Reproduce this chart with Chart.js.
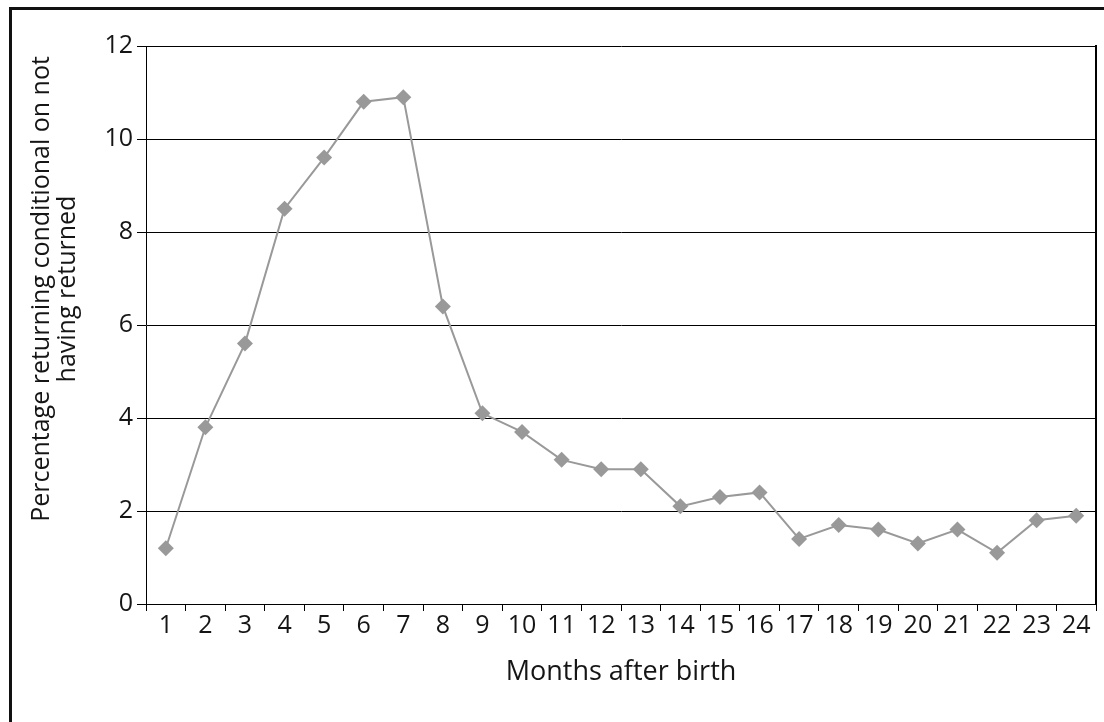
<!DOCTYPE html>
<html>
<head>
<meta charset="utf-8">
<script src="https://cdn.jsdelivr.net/npm/chart.js@4"></script>
<style>
  html, body { margin: 0; padding: 0; background: #fff; overflow: hidden; }
  #wrap { position: relative; width: 1104px; height: 722px; }
  #frame {
    position: absolute; left: 9px; top: 7px; width: 1200px; height: 800px;
    border-top: 3px solid #111; border-left: 3px solid #111; pointer-events: none;
  }
  canvas { position: absolute; left: 0; top: 0; }
</style>
</head>
<body>
<div id="wrap">
  <canvas id="chart" width="1104" height="722"></canvas>
  <div id="frame"></div>
</div>
<script>
// data
var months = ['1','2','3','4','5','6','7','8','9','10','11','12','13','14','15','16','17','18','19','20','21','22','23','24'];
var returning = [1.2, 3.8, 5.6, 8.5, 9.6, 10.8, 10.9, 6.4, 4.1, 3.7, 3.1, 2.9, 2.9, 2.1, 2.3, 2.4, 1.4, 1.7, 1.6, 1.3, 1.6, 1.1, 1.8, 1.9];
var yTitle = ['Percentage returning conditional on not', 'having returned'];
var xTitle = 'Months after birth';

var FONT = '"Open Sans", "Noto Sans", sans-serif';
var TXT = '#151515';

// y axis title, drawn a bit above the middle like the original
var yTitlePlugin = {
  id: 'yTitle',
  afterDraw: function(chart) {
    var ctx = chart.ctx;
    ctx.save();
    ctx.translate(42, 289);
    ctx.rotate(-Math.PI / 2);
    ctx.fillStyle = TXT;
    ctx.font = '25px ' + FONT;
    ctx.textAlign = 'center';
    ctx.textBaseline = 'middle';
    ctx.fillText(yTitle[0], 0, 0);
    ctx.fillText(yTitle[1], 0, 26);
    ctx.restore();
  }
};

var ctx = document.getElementById('chart').getContext('2d');
var chart = new Chart(ctx, {
  type: 'line',
  data: {
    labels: months,
    datasets: [{
      data: returning,
      borderColor: '#999999',
      backgroundColor: '#999999',
      borderWidth: 2,
      pointStyle: 'rectRot',
      pointRadius: 8,
      pointBorderWidth: 0,
      tension: 0
    }]
  },
  options: {
    responsive: false,
    animation: false,
    layout: { padding: { left: 0, top: 46, right: 7, bottom: 0 } },
    plugins: { legend: { display: false }, tooltip: { enabled: false } },
    scales: {
      x: {
        offset: true,
        grid: { display: true, offset: true, drawOnChartArea: false, drawTicks: true, tickLength: 7, color: '#000' },
        border: { display: true, color: '#000', width: 1 },
        ticks: { color: TXT, font: { family: FONT, size: 25 }, padding: 0, maxRotation: 0, autoSkip: false },
        title: { display: true, text: xTitle, color: TXT, font: { family: FONT, size: 27 }, padding: { top: 0, bottom: 33 } },
        afterFit: function(s) { s.height = 118; }
      },
      y: {
        min: 0, max: 12,
        ticks: { stepSize: 2, color: TXT, font: { family: FONT, size: 25 }, padding: 4 },
        grid: { color: '#000', lineWidth: 1, tickLength: 9 },
        border: { display: true, color: '#000', width: 1 },
        afterFit: function(s) { s.width = 146; }
      },
      y2: {
        position: 'right',
        min: 0, max: 12,
        ticks: { display: false },
        grid: { display: false },
        border: { display: true, color: '#000', width: 2 },
        afterFit: function(s) { s.width = 0; }
      }
    }
  },
  plugins: [yTitlePlugin]
});
</script>
</body>
</html>
